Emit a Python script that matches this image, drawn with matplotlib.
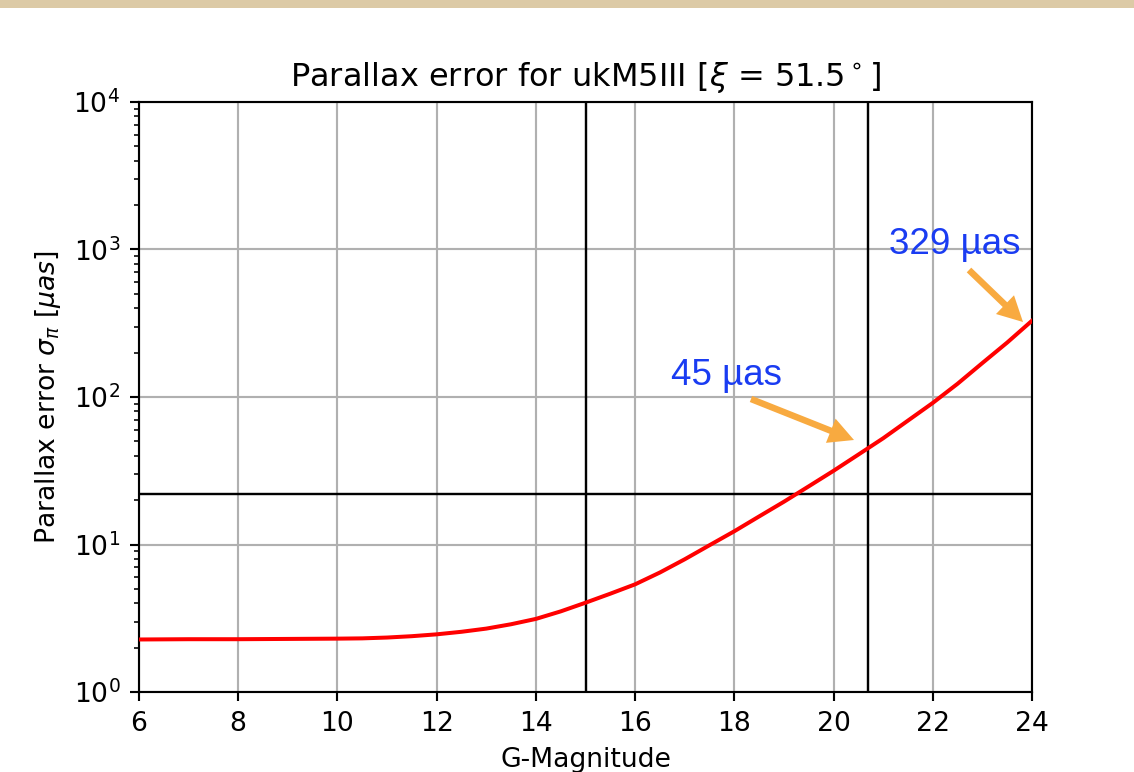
import matplotlib
matplotlib.use("Agg")
import matplotlib.pyplot as plt
from matplotlib.patches import Rectangle, FancyArrow
from matplotlib.transforms import IdentityTransform

# Data
g_mag = [6.0, 7.0, 8.0, 9.0, 10.0, 10.5, 11.0, 11.5, 12.0, 12.5, 13.0, 13.5, 14.0, 14.5,
         15.0, 15.5, 16.0, 16.5, 17.0, 17.5, 18.0, 18.5, 19.0, 19.5, 20.0,
         20.5, 21.0, 21.5, 22.0, 22.5, 23.0, 23.5, 24.0]
sigma_pi = [2.27, 2.28, 2.28, 2.29, 2.30, 2.31, 2.34, 2.39, 2.46, 2.56, 2.69, 2.88, 3.13, 3.52,
            4.03, 4.64, 5.37, 6.46, 7.94, 9.89, 12.3, 15.5, 19.5, 24.8, 31.6,
            40.7, 52.5, 69.2, 91.2, 123.0, 170.0, 234.0, 329.0]
vlines_g = [15.0, 20.7]
hline_sigma = 22.0
xticks = [6, 8, 10, 12, 14, 16, 18, 20, 22, 24]
annot_labels = ["45 µas", "329 µas"]

DPI = 192
W, H = 1134, 772
fig = plt.figure(figsize=(W / DPI, H / DPI), dpi=DPI)
fig.patch.set_facecolor("white")
ax = fig.add_axes([139 / W, 1 - 692 / H, (1032 - 139) / W, (692 - 102) / H])

ax.semilogy(g_mag, sigma_pi, color="red", lw=1.5, zorder=3)
for v in vlines_g:
    ax.axvline(v, color="black", lw=0.9, zorder=2)
ax.axhline(hline_sigma, color="black", lw=0.9, zorder=2)

ax.set_xlim(6, 24)
ax.set_ylim(1, 1e4)
ax.set_xticks(xticks)
ax.grid(True, which="major", color="#b0b0b0", lw=0.8)
ax.set_xlabel("G-Magnitude")
ax.set_ylabel(r"Parallax error $\sigma_\pi$ [$\mu as$]")
ax.set_title(r"Parallax error for ukM5III [$\xi$ = 51.5$^\circ$]")

# Beige slide band at the top
fig.patches.append(Rectangle((0, 1 - 8 / H), 1, 8 / H, transform=fig.transFigure,
                             facecolor="#dccaa6", edgecolor="none", zorder=0))

# Slide annotations (blue text + orange arrows), in pixels (origin bottom-left)
blue = "#1a3cf2"
orange = "#f8aa40"
fig.text(671, H - 385, annot_labels[0], color=blue, fontsize=13.8,
         family=["Liberation Sans", "DejaVu Sans"], transform=IdentityTransform())
fig.text(889, H - 254, annot_labels[1], color=blue, fontsize=13.8,
         family=["Liberation Sans", "DejaVu Sans"], transform=IdentityTransform())

for (x0, y0), (x1, y1) in [((751, 399), (854, 440)), ((969, 270), (1023, 322))]:
    arr = FancyArrow(x0, H - y0, x1 - x0, -(y1 - y0), width=6.5, head_width=26,
                     head_length=25, length_includes_head=True,
                     transform=IdentityTransform(), color=orange, lw=0, zorder=5)
    fig.patches.append(arr)

fig.savefig("out.png", dpi=DPI)
